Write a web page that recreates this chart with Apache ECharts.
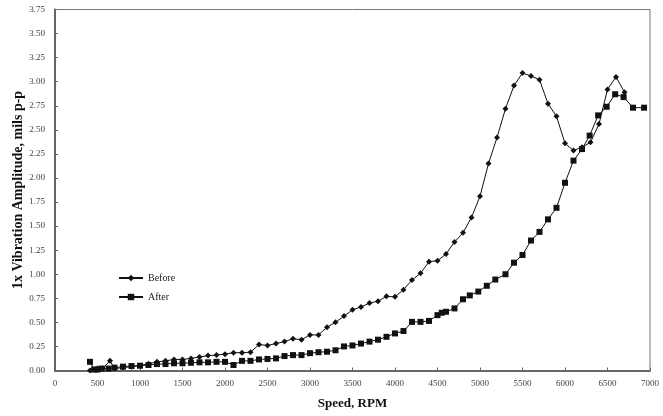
<!DOCTYPE html>
<html>
<head>
<meta charset="UTF-8">
<title>Vibration amplitude vs speed</title>
<script src="https://cdn.jsdelivr.net/npm/echarts@6/dist/echarts.min.js"></script>
<style>
  html, body { margin: 0; padding: 0; background: #fff; }
  #chart { width: 663px; height: 416px; }
</style>
</head>
<body>
<div id="chart"></div>
<script>
// speed (rpm) and amplitude (mils p-p)
var beforeSpeed = [412, 500, 560, 647, 700, 800, 900, 1000, 1100, 1200, 1300, 1400, 1500, 1600, 1700, 1800, 1900, 2000, 2100, 2200, 2300, 2400, 2500, 2600, 2700, 2800, 2900, 3000, 3100, 3200, 3300, 3400, 3500, 3600, 3700, 3800, 3900, 4000, 4100, 4200, 4300, 4400, 4500, 4600, 4700, 4800, 4900, 5000, 5100, 5200, 5300, 5400, 5500, 5600, 5700, 5800, 5900, 6000, 6100, 6200, 6300, 6400, 6500, 6600, 6700];
var beforeAmp = [0.00, 0.02, 0.02, 0.10, 0.02, 0.03, 0.04, 0.05, 0.07, 0.09, 0.10, 0.115, 0.115, 0.125, 0.14, 0.155, 0.16, 0.17, 0.185, 0.185, 0.19, 0.27, 0.26, 0.28, 0.30, 0.33, 0.32, 0.37, 0.37, 0.45, 0.50, 0.565, 0.63, 0.66, 0.70, 0.72, 0.77, 0.765, 0.84, 0.94, 1.01, 1.13, 1.14, 1.21, 1.335, 1.43, 1.59, 1.81, 2.15, 2.42, 2.72, 2.96, 3.09, 3.06, 3.02, 2.77, 2.64, 2.36, 2.285, 2.32, 2.37, 2.56, 2.92, 3.05, 2.89];

var afterSpeed = [412, 460, 500, 550, 630, 700, 800, 900, 1000, 1100, 1200, 1300, 1400, 1500, 1600, 1700, 1800, 1900, 2000, 2100, 2200, 2300, 2400, 2500, 2600, 2700, 2800, 2900, 3000, 3100, 3200, 3300, 3400, 3500, 3600, 3700, 3800, 3900, 4000, 4100, 4200, 4300, 4400, 4500, 4550, 4600, 4700, 4800, 4880, 4980, 5080, 5180, 5300, 5400, 5500, 5600, 5700, 5800, 5900, 6000, 6100, 6200, 6290, 6390, 6490, 6590, 6690, 6800, 6930];
var afterAmp = [0.09, 0.01, 0.01, 0.02, 0.02, 0.03, 0.04, 0.047, 0.05, 0.057, 0.067, 0.067, 0.075, 0.075, 0.08, 0.085, 0.085, 0.09, 0.09, 0.057, 0.10, 0.10, 0.115, 0.12, 0.126, 0.15, 0.16, 0.16, 0.18, 0.19, 0.195, 0.21, 0.25, 0.26, 0.28, 0.30, 0.32, 0.35, 0.385, 0.41, 0.505, 0.505, 0.515, 0.575, 0.60, 0.61, 0.645, 0.74, 0.78, 0.82, 0.88, 0.945, 1.00, 1.12, 1.20, 1.35, 1.44, 1.57, 1.69, 1.95, 2.18, 2.30, 2.44, 2.65, 2.74, 2.87, 2.84, 2.73, 2.73];

var seriesNames = ['Before', 'After'];

function pairs(xs, ys) {
  return xs.map(function (x, i) { return [x, ys[i]]; });
}

var font = '"Liberation Serif", "DejaVu Serif", serif';
var chart = echarts.init(document.getElementById('chart'), null, { renderer: 'canvas' });

chart.setOption({
  backgroundColor: '#fff',
  animation: false,
  textStyle: { fontFamily: font },
  grid: {
    left: 55, right: 13, top: 9.5, bottom: 45.5,
    outerBoundsMode: 'none',
    show: true, borderColor: '#777', borderWidth: 1
  },
  legend: {
    orient: 'vertical',
    left: 113,
    top: 268,
    itemGap: 9,
    itemWidth: 24,
    itemHeight: 8,
    data: seriesNames,
    textStyle: { fontFamily: font, fontSize: 10, color: '#222' }
  },
  xAxis: {
    type: 'value',
    min: 0,
    max: 7000,
    interval: 500,
    name: 'Speed, RPM',
    nameLocation: 'middle',
    nameGap: 27,
    nameMoveOverlap: false,
    nameTextStyle: { fontFamily: font, fontWeight: 'bold', fontSize: 13, color: '#111' },
    axisLine: { show: true, lineStyle: { color: '#666', width: 2 } },
    axisTick: { show: true, inside: true, length: 3, lineStyle: { color: '#666' } },
    axisLabel: {
      fontFamily: font, fontSize: 9, color: '#444', margin: 9,
      formatter: function (v) { return String(v); }
    },
    splitLine: { show: false }
  },
  yAxis: {
    type: 'value',
    min: 0,
    max: 3.75,
    interval: 0.25,
    name: '1x Vibration Amplitude, mils p-p',
    nameLocation: 'middle',
    nameRotate: 90,
    nameGap: 30,
    nameMoveOverlap: false,
    nameTextStyle: { fontFamily: font, fontWeight: 'bold', fontSize: 14, color: '#111' },
    axisLine: { show: true, lineStyle: { color: '#666', width: 2 } },
    axisTick: { show: true, inside: true, length: 3, lineStyle: { color: '#666' } },
    axisLabel: {
      fontFamily: font, fontSize: 9, color: '#444', margin: 10,
      formatter: function (v) { return v.toFixed(2); }
    },
    splitLine: { show: false }
  },
  series: [
    {
      name: seriesNames[0],
      type: 'line',
      data: pairs(beforeSpeed, beforeAmp),
      symbol: 'diamond',
      symbolSize: 6,
      showAllSymbol: true,
      lineStyle: { color: '#111', width: 1 },
      itemStyle: { color: '#111' }
    },
    {
      name: seriesNames[1],
      type: 'line',
      data: pairs(afterSpeed, afterAmp),
      symbol: 'rect',
      symbolSize: 6,
      showAllSymbol: true,
      lineStyle: { color: '#111', width: 1 },
      itemStyle: { color: '#111' }
    }
  ]
});
</script>
</body>
</html>
